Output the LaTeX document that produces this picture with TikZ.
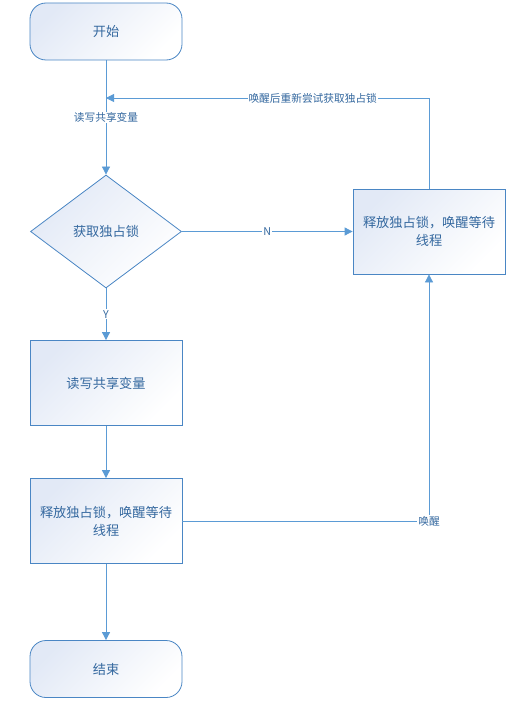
\documentclass[tikz,border=0pt]{standalone}
\usepackage{fontspec}
\setmainfont{Noto Sans CJK SC}
\usetikzlibrary{shapes.geometric, arrows.meta}
\definecolor{lineblue}{HTML}{5B9BD5}
\definecolor{edgeblue}{HTML}{4A86C4}
\definecolor{textblue}{HTML}{34689F}
\definecolor{fillblue}{HTML}{E2E9F6}
\tikzset{
  flow/.style = {draw=edgeblue, line width=0.8pt, top color=fillblue, bottom color=white,
                 shading angle=45, text=textblue, align=center,
                 font=\fontsize{13.2}{18}\selectfont},
  terminal/.style = {flow, rounded corners=16pt, minimum width=152pt, minimum height=57pt},
  proc/.style = {flow, text width=145pt, minimum width=152pt, minimum height=85pt},
  decision/.style = {flow, diamond, inner sep=0pt, minimum width=151pt, minimum height=113pt},
  link/.style = {draw=lineblue, line width=0.8pt, -{Triangle[length=8pt,width=8pt]}},
  lbl/.style = {fill=white, inner sep=1pt, text=textblue, font=\fontsize{10.7}{12}\selectfont}
}
\begin{document}
\begin{tikzpicture}[x=1pt, y=-1pt]
\useasboundingbox (0,0) rectangle (511,706);
\path (106,31.5) node[terminal] (start) {开始};
\path (106,231.5) node[decision] (lock) {获取独占锁};
\path (429,231.5) node[proc] (retry) {释放独占锁，唤醒等待\\线程};
\path (106,383) node[proc] (rw) {读写共享变量};
\path (106,521) node[proc] (release) {释放独占锁，唤醒等待\\线程};
\path (106,669) node[terminal] (stop) {结束};
\coordinate (back) at (106,98);
\draw[link] (start) -- node[lbl] {读写共享变量} (lock);
\draw[link] (retry.north) |- node[lbl, pos=0.68] {唤醒后重新尝试获取独占锁} (back);
\draw[link] (lock) -- node[lbl] {N} (retry);
\draw[link] (lock) -- node[lbl] {Y} (rw);
\draw[link] (rw) -- (release);
\draw[link] (release) -- (stop);
\draw[link] (release.east) -| node[lbl, pos=0.5] {唤醒} (retry.south);
\end{tikzpicture}
\end{document}
